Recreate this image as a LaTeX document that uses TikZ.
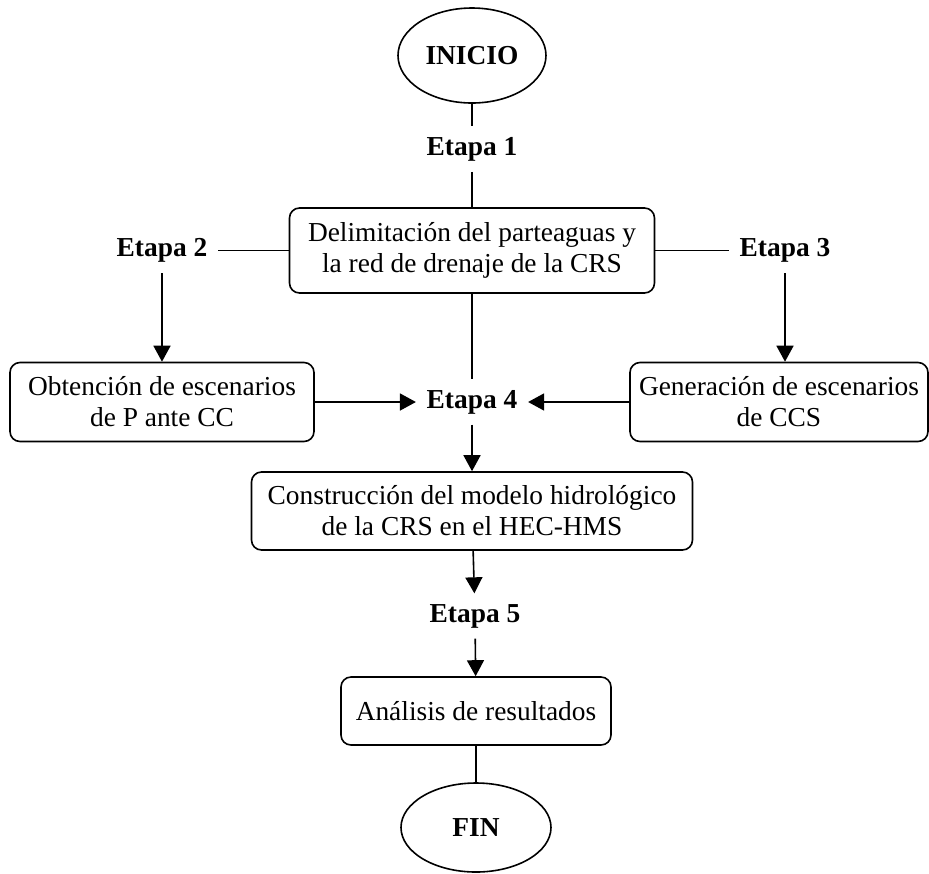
\documentclass[tikz,border=0pt]{standalone}
\usepackage{fontspec}
\setmainfont{Liberation Serif}
\usetikzlibrary{matrix,shapes.geometric,arrows.meta}

\begin{document}
\begin{tikzpicture}[>={Triangle[length=8pt,width=8.5pt]},line width=0.8pt]
  \def\f{0.5}
  \def\fs{\fontsize{13.7}{15.5}\selectfont}

\tikzstyle{box}=[draw,rounded corners=5pt,align=center,font=\fs,inner sep=0pt]
\tikzstyle{stage}=[font=\fs\bfseries,inner sep=5pt]
\tikzstyle{term}=[draw,ellipse,font=\fs\bfseries,inner sep=0pt]
\matrix (flow) [column sep={between origins,155pt}]{
 & \node[term,minimum width=148*\f pt,minimum height=95*\f pt] (inicio) {INICIO}; & \\[between origins,46.75pt]
 & \node[stage] (e1) {Etapa 1}; & \\[between origins,50.75pt]
 \node[stage] (e2) {Etapa 2}; & \node[box,minimum width=365*\f pt,minimum height=85*\f pt] (delim) {Delimitación del parteaguas y\\la red de drenaje de la CRS}; & \node[stage,xshift=1.5pt] (e3) {Etapa 3}; \\[between origins,75.75pt]
 \node[box,minimum width=304*\f pt,minimum height=79*\f pt] (obt) {Obtención de escenarios\\de P ante CC}; & \node[stage] (e4) {Etapa 4}; & \node[box,xshift=-1.5pt,minimum width=298*\f pt,minimum height=79*\f pt] (gen) {Generación de escenarios\\de CCS}; \\[between origins,54.5pt]
 & \node[box,minimum width=441*\f pt,minimum height=78*\f pt] (constr) {Construcción del modelo hidrológico\\de la CRS en el HEC-HMS}; & \\[between origins,52.5pt]
 & \node[stage,xshift=1.5pt] (e5) {Etapa 5}; & \\[between origins,47.5pt]
 & \node[box,xshift=2pt,minimum width=270*\f pt,minimum height=68*\f pt] (anal) {Análisis de resultados}; & \\[between origins,58.25pt]
 & \node[term,xshift=2pt,minimum width=150*\f pt,minimum height=89*\f pt] (fin) {FIN}; & \\
};
\draw (inicio) -- (e1);
\draw (e1) -- (delim);
\draw (delim) -- (e2);
\draw (delim) -- (e3);
\draw[->] (e2) -- (obt);
\draw[->] (e3) -- (e3 |- gen.north);
\draw (delim) -- (e4);
\draw[->] (obt) -- (e4);
\draw[->] (gen) -- (e4);
\draw[->] (e4) -- (constr);
\draw[->] (constr) -- (e5);
\draw[->] (e5) -- (anal);
\draw (anal) -- (fin);
\pgfresetboundingbox
\path[use as bounding box] ([shift={(-236pt,27.75pt)}]inicio.center) rectangle ([shift={(228.5pt,-408.75pt)}]inicio.center);
\end{tikzpicture}
\end{document}
